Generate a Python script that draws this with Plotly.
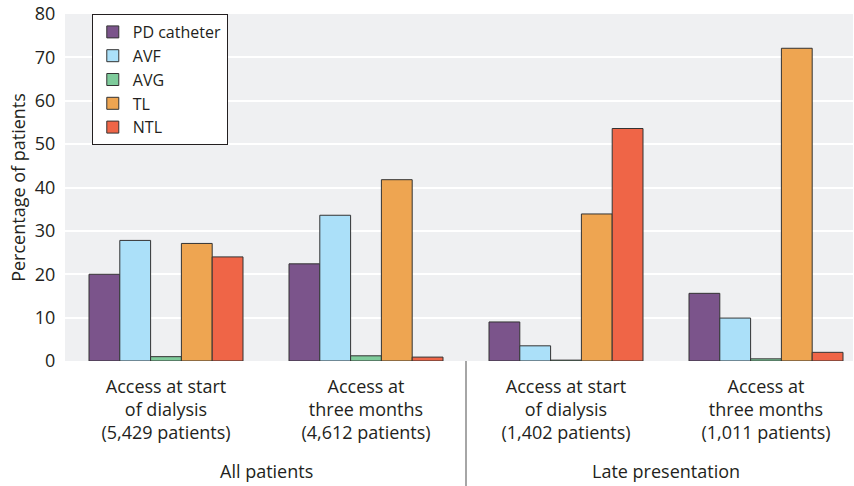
import plotly.graph_objects as go

categories = [0, 1, 2, 3]
tick_labels = [
    "Access at start<br>of dialysis<br>(5,429 patients)",
    "Access at<br>three months<br>(4,612 patients)",
    "Access at start<br>of dialysis<br>(1,402 patients)",
    "Access at<br>three months<br>(1,011 patients)",
]
group_labels = ["All patients", "Late presentation"]
group_centers = [0.5, 2.5]

series_names = ["PD catheter", "AVF", "AVG", "TL", "NTL"]
pd_catheter = [20.0, 22.4, 9.0, 15.6]
avf = [27.8, 33.6, 3.5, 9.9]
avg = [1.0, 1.2, 0.2, 0.5]
tl = [27.1, 41.8, 33.9, 72.1]
ntl = [24.0, 0.9, 53.6, 2.0]
series_values = [pd_catheter, avf, avg, tl, ntl]
colors = ["#7b548b", "#abe0f9", "#7ecb9b", "#eea551", "#ef6547"]

FONT = "Open Sans"
TXT = "#231f20"

fig = go.Figure()
for name, vals, col in zip(series_names, series_values, colors):
    fig.add_trace(go.Bar(
        x=categories, y=vals, name=name,
        marker=dict(color=col, line=dict(color="#333333", width=1)),
    ))

fig.update_layout(
    width=854, height=486,
    margin=dict(l=65, r=1, t=14, b=124.5),
    paper_bgcolor="white",
    plot_bgcolor="#eff0f2",
    barmode="group",
    bargap=0.23,
    bargroupgap=0,
    font=dict(family=FONT, size=18, color=TXT),
    legend=dict(
        x=0.034, y=1, xanchor="left", yanchor="top",
        bgcolor="white", bordercolor=TXT, borderwidth=1,
        font=dict(family=FONT, size=16, color=TXT),
        tracegroupgap=0,
    ),
    xaxis=dict(
        tickmode="array", tickvals=categories, ticktext=tick_labels,
        range=[-0.505, 3.435], showgrid=False, zeroline=False,
        ticks="outside", ticklen=9, tickcolor="rgba(0,0,0,0)", showline=False,
        tickfont=dict(family=FONT, size=18, color=TXT),
    ),
    yaxis=dict(
        range=[0, 80], dtick=10, showgrid=True, gridcolor="white", gridwidth=2,
        zeroline=False, ticks="outside", ticklen=5, tickcolor="rgba(0,0,0,0)",
        ticklabeloverflow="allow",
        tickfont=dict(family=FONT, size=18, color=TXT),
        title=dict(text="Percentage of patients", font=dict(family=FONT, size=18, color=TXT), standoff=4),
    ),
)

for lbl, cx in zip(group_labels, group_centers):
    fig.add_annotation(x=cx, y=-0.318, xref="x", yref="paper", text=lbl,
                       showarrow=False, font=dict(family=FONT, size=18, color=TXT),
                       xanchor="center", yanchor="middle")

fig.add_shape(type="line", xref="x", yref="paper", x0=1.5, x1=1.5, y0=0, y1=-0.36,
              line=dict(color="#888888", width=1.5))

# remove the browser's default body margin so the figure fills the window
fig.write_html("out.html", post_script="document.body.style.margin='0';",
               config={"displayModeBar": False})
